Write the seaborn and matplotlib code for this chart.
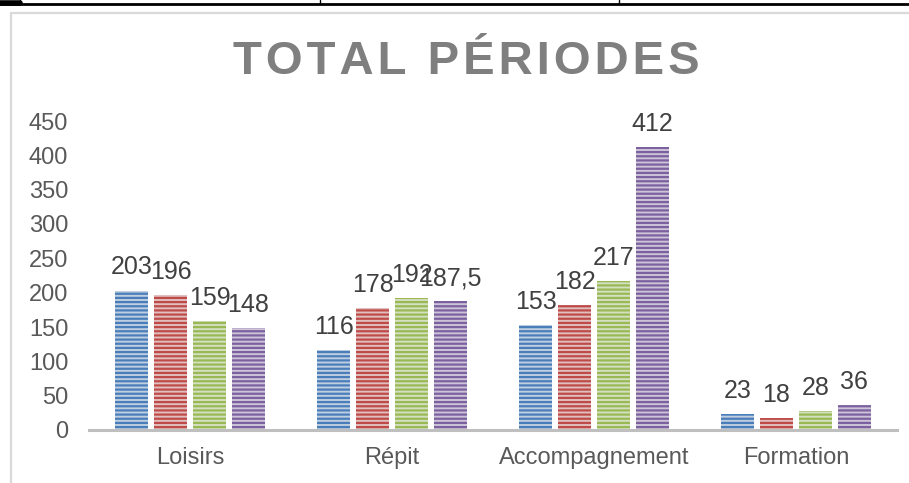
import matplotlib
matplotlib.use('Agg')
import matplotlib.pyplot as plt
import seaborn as sns
import pandas as pd

# ---- data ----
categories = ['Loisirs', 'Répit', 'Accompagnement', 'Formation']
series = ['Série 1', 'Série 2', 'Série 3', 'Série 4']
loisirs = [203, 196, 159, 148]
repit = [116, 178, 192, 187.5]
accompagnement = [153, 182, 217, 412]
formation = [23, 18, 28, 36]
values_by_cat = [loisirs, repit, accompagnement, formation]

dark = ['#4a7ebb', '#be4b48', '#98b954', '#7d60a0']
light = ['#b9cde6', '#e6b9b8', '#d7e4bd', '#ccc1da']

rows = []
for cat, vals in zip(categories, values_by_cat):
    for s, v in zip(series, vals):
        rows.append({'Catégorie': cat, 'Série': s, 'Valeur': v})
df = pd.DataFrame(rows)

sns.set_style('white')
plt.rcParams['font.family'] = ['Liberation Sans', 'DejaVu Sans']
plt.rcParams['hatch.linewidth'] = 1.6

fig = plt.figure(figsize=(9.09, 4.83), dpi=100)
ax = fig.add_axes([89 / 909, 1 - 430 / 483, 808 / 909, 309 / 483])

sns.barplot(data=df, x='Catégorie', y='Valeur', hue='Série',
            palette=light, width=0.77, gap=0.15, legend=False, ax=ax)

for cont, dc in zip(ax.containers, dark):
    for bar in cont:
        bar.set_edgecolor(dc)
        bar.set_linewidth(0)
        bar.set_hatch('----')
    labels = [f'{v:g}'.replace('.', ',') for v in cont.datavalues]
    ax.bar_label(cont, labels=labels, padding=8, fontsize=18, color='#404040')

ax.set_ylim(0, 450)
ax.set_yticks(range(0, 451, 50))
ax.set_xlabel('')
ax.set_ylabel('')
for side in ['top', 'right', 'left']:
    ax.spines[side].set_visible(False)
ax.spines['bottom'].set_color('#bfbfbf')
ax.spines['bottom'].set_linewidth(2.2)
ax.tick_params(axis='y', length=0, pad=15, labelsize=17, labelcolor='#595959')
ax.tick_params(axis='x', length=0, pad=12, labelsize=17, labelcolor='#595959')

title = '\u200a'.join('TOTAL PÉRIODES')
fig.text(466 / 909, 1 - 62 / 483, title, ha='center', va='center',
         fontsize=34, fontweight='bold', color='#7f7f7f')

# chart frame and table border around the screenshot
fig.add_artist(plt.Line2D([11 / 909, 11 / 909], [0, 1 - 13 / 483],
                          color='#d9d9d9', linewidth=1.6))
fig.add_artist(plt.Line2D([11 / 909, 1], [1 - 13 / 483, 1 - 13 / 483],
                          color='#d9d9d9', linewidth=1.6))
fig.add_artist(plt.Line2D([0, 1], [1 - 4 / 483, 1 - 4 / 483],
                          color='black', linewidth=2))
for xp in [20, 320, 619]:
    fig.add_artist(plt.Line2D([xp / 909, xp / 909], [1 - 4 / 483, 1],
                              color='black', linewidth=1))
fig.add_artist(plt.Line2D([0, 20 / 909], [1 - 3 / 483, 1 - 3 / 483],
                          color='black', linewidth=4))

fig.savefig('out.png', dpi=100)
